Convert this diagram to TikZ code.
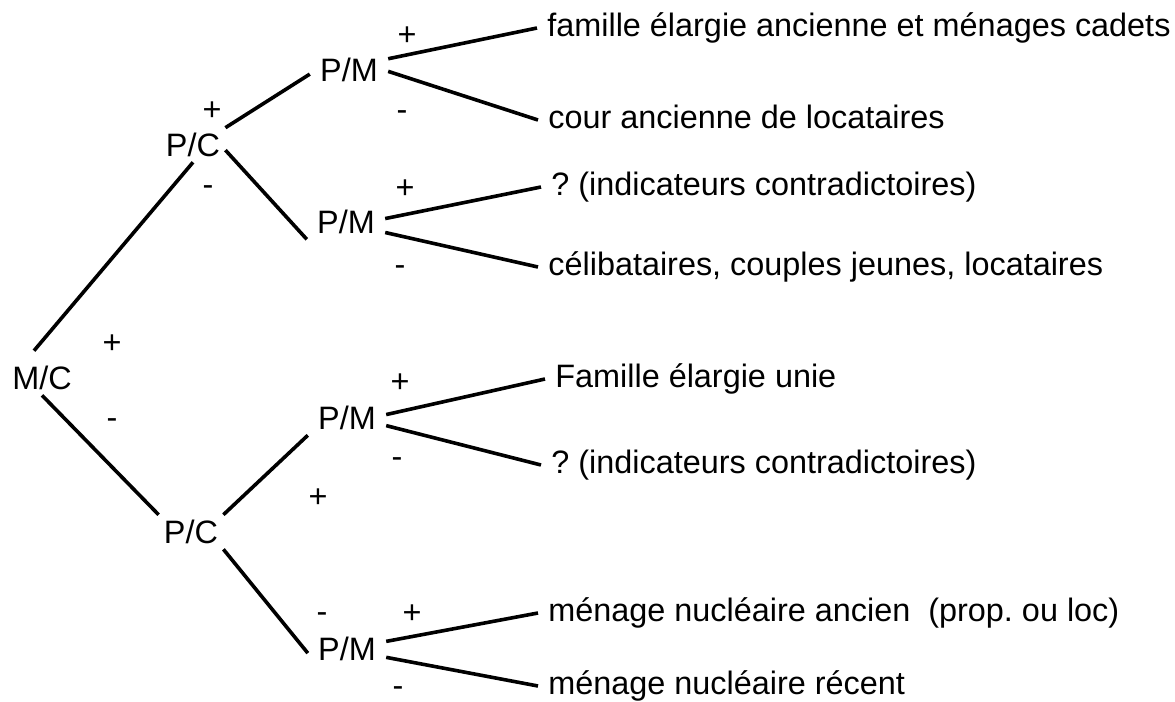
\documentclass[tikz,border=0pt]{standalone}
\usepackage{fontspec}
\setmainfont{Liberation Sans}
\frenchspacing

\begin{document}
\begin{tikzpicture}[x=0.5pt,y=-0.5pt,
  every node/.style={font=\fontsize{16.2}{19}\selectfont},
  split/.style={inner xsep=2.5pt,inner ysep=2.5pt},
  pm/.style={inner xsep=5pt,inner ysep=2.5pt},
  leaf/.style={anchor=west,inner xsep=5pt,inner ysep=0pt,text height=12pt,text depth=3.5pt},
  sign/.style={inner sep=0pt,anchor=base},
  branch/.style={line width=1.8pt}]

\useasboundingbox (0,0) rectangle (1175,702);

% decision nodes
\node[split] (mc) at (42,378) {M/C};
\node[split] (pcA) at (193,145) {P/C};
\node[split] (pcB) at (191,532) {P/C};
\node[pm] (pmA) at (349,70) {P/M};
\node[pm] (pmB) at (346,222) {P/M};
\node[pm] (pmC) at (347,418) {P/M};
\node[pm] (pmD) at (347,649) {P/M};

% household types
\node[leaf] (famA) at (537,28) {famille élargie ancienne et ménages cadets};
\node[leaf] (courA) at (538,120) {cour ancienne de locataires};
\node[leaf] (indB) at (541,187) {? (indicateurs contradictoires)};
\node[leaf] (celB) at (538,267) {célibataires, couples jeunes, locataires};
\node[leaf] (famC) at (545,379) {Famille élargie unie};
\node[leaf] (indC) at (541,465) {? (indicateurs contradictoires)};
\node[leaf] (ancD) at (538,613) {ménage nucléaire ancien\ \ (prop. ou loc)};
\node[leaf] (recD) at (538,686) {ménage nucléaire récent};

% signs
\node[sign] (mcp) at (112,353) {+};
\node[sign] (mcm) at (112,428) {-};
\node[sign] (pcAp) at (212,120) {+};
\node[sign] (pcAm) at (208,195) {-};
\node[sign] (pcBp) at (318,507) {+};
\node[sign] (pcBm) at (322,622) {-};
\node[sign] (pmAp) at (407,45) {+};
\node[sign] (pmAm) at (402,120) {-};
\node[sign] (pmBp) at (405,198) {+};
\node[sign] (pmBm) at (400,275) {-};
\node[sign] (pmCp) at (400,392) {+};
\node[sign] (pmCm) at (397,467) {-};
\node[sign] (pmDp) at (412,623) {+};
\node[sign] (pmDm) at (398,696) {-};

\draw[branch] ([xshift=-4pt,yshift=5pt]mc.north) -- (pcA.south);
\draw[branch] (mc.south) -- (pcB.north west);

\draw[branch] (pcA.north east) -- (pmA.186);
\draw[branch] (pcA.-9) -- (pmB.south west);
\draw[branch] (pcB.north east) -- (pmC.south west);
\draw[branch] (pcB.south east) -- (pmD.186);

\draw[branch] (pmA.16) -- (famA.west);
\draw[branch] (pmA.-2) -- (courA.west);
\draw[branch] (pmB.5) -- (indB.west);
\draw[branch] (pmB.-15) -- (celB.west);
\draw[branch] (pmC.5) -- (famC.west);
\draw[branch] (pmC.-11) -- (indC.west);
\draw[branch] (pmD.11) -- (ancD.west);
\draw[branch] (pmD.-12) -- (recD.west);

\end{tikzpicture}
\end{document}
